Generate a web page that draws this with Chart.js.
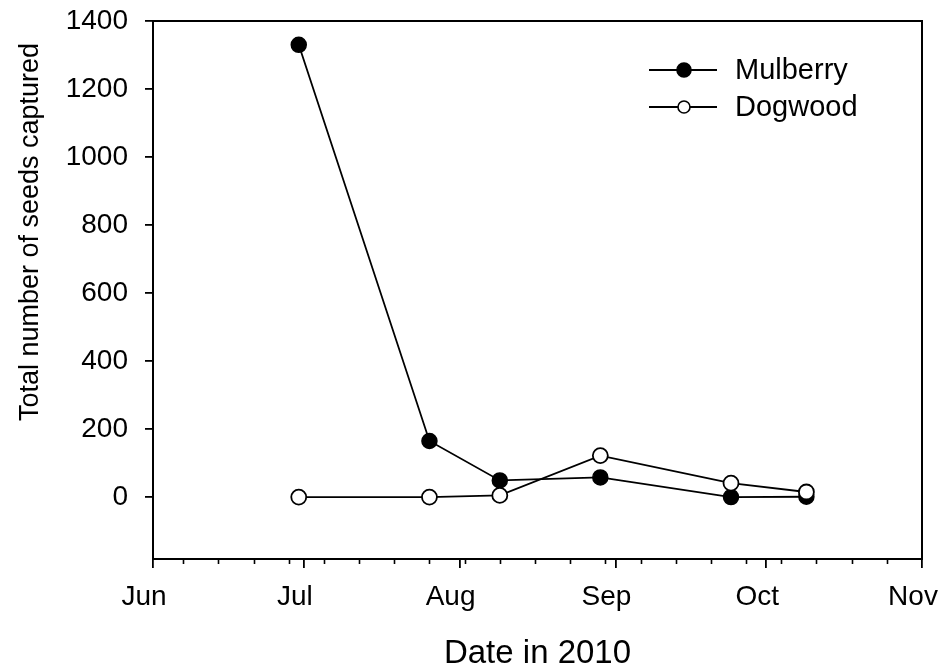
<!DOCTYPE html>
<html>
<head>
<meta charset="utf-8">
<script src="https://cdn.jsdelivr.net/npm/chart.js@4/dist/chart.umd.min.js"></script>
<style>
  html, body { margin: 0; padding: 0; background: #fff; }
  canvas { display: block; }
</style>
</head>
<body>
<canvas id="seeds" width="941" height="668"></canvas>
<script>
// Sampling dates and seed totals per species
const sampleDates = ['2010-06-30', '2010-07-26', '2010-08-09', '2010-08-29', '2010-09-24', '2010-10-09'];
const mulberrySeeds = [1330, 165, 49, 58, 0, 1];
const dogwoodSeeds = [0, 0, 5, 122, 41, 15];

// Axis ticks
const monthStarts = ['2010-06-01', '2010-07-01', '2010-08-01', '2010-09-01', '2010-10-01', '2010-11-01'];
const monthLabels = ['Jun', 'Jul', 'Aug', 'Sep', 'Oct', 'Nov'];
const countTicks = [0, 200, 400, 600, 800, 1000, 1200, 1400];
const firstMonday = '2010-06-07';

const FONT = "'Liberation Sans', Arial, sans-serif";
const DAY = 86400000;
const origin = Date.parse(monthStarts[0]);
const dayOf = s => (Date.parse(s) - origin) / DAY;

const monthDays = monthStarts.map(dayOf);
const xMin = monthDays[0];
const xMax = monthDays[monthDays.length - 1];

// weekly minor ticks (Mondays)
const weekDays = [];
for (let d = dayOf(firstMonday); d < xMax; d += 7) weekDays.push(d);

const toPoints = vals => sampleDates.map((s, i) => ({ x: dayOf(s), y: vals[i] }));

// keep the plot box fixed: tick labels may overhang the margins
const noOverhang = s => {
  s.paddingTop = 0; s.paddingBottom = 0; s.paddingLeft = 0; s.paddingRight = 0;
};

// Box frame around the plot area plus short minor ticks on the date axis
const framePlugin = {
  id: 'frame',
  afterDraw(chart) {
    const { ctx, chartArea: a, scales } = chart;
    ctx.save();
    ctx.strokeStyle = '#000';
    ctx.lineWidth = 2;
    ctx.lineCap = 'square';
    ctx.strokeRect(a.left, a.top, a.right - a.left, a.bottom - a.top);
    ctx.lineWidth = 1.6;
    ctx.lineCap = 'butt';
    ctx.beginPath();
    weekDays.forEach(d => {
      const x = Math.round(scales.x.getPixelForValue(d)) + 0.5;
      ctx.moveTo(x, a.bottom);
      ctx.lineTo(x, a.bottom + 5);
    });
    ctx.stroke();
    ctx.restore();
  }
};

// Axis titles
const titlePlugin = {
  id: 'axisTitles',
  afterDraw(chart) {
    const { ctx, chartArea: a } = chart;
    ctx.save();
    ctx.fillStyle = '#000';
    ctx.textAlign = 'center';
    ctx.textBaseline = 'alphabetic';
    ctx.font = '33px ' + FONT;
    ctx.fillText('Date in 2010', (a.left + a.right) / 2, 663);
    ctx.translate(38, 232);
    ctx.rotate(-Math.PI / 2);
    ctx.font = '27px ' + FONT;
    ctx.fillText('Total number of seeds captured', 0, 0);
    ctx.restore();
  }
};

// Legend: line through marker, label to the right
const legendPlugin = {
  id: 'lineLegend',
  afterDraw(chart) {
    const { ctx, chartArea: a } = chart;
    const entries = [
      { ds: chart.data.datasets.find(d => d.label === 'Mulberry'), y: a.top + 49, r: 7 },
      { ds: chart.data.datasets.find(d => d.label === 'Dogwood'), y: a.top + 86, r: 6 }
    ];
    const x0 = a.right - 273, x1 = a.right - 205, xm = a.right - 238, xt = a.right - 187;
    ctx.save();
    entries.forEach(e => {
      ctx.strokeStyle = '#000';
      ctx.lineWidth = 1.8;
      ctx.beginPath();
      ctx.moveTo(x0, e.y);
      ctx.lineTo(x1, e.y);
      ctx.stroke();
      ctx.beginPath();
      ctx.arc(xm, e.y, e.r, 0, Math.PI * 2);
      ctx.fillStyle = e.ds.pointBackgroundColor;
      ctx.fill();
      ctx.lineWidth = 1.6;
      ctx.stroke();
      ctx.fillStyle = '#000';
      ctx.font = '29px ' + FONT;
      ctx.textAlign = 'left';
      ctx.textBaseline = 'middle';
      ctx.fillText(e.ds.label, xt, e.y + 1);
    });
    ctx.restore();
  }
};

new Chart(document.getElementById('seeds'), {
  type: 'line',
  data: {
    datasets: [
      {
        label: 'Mulberry',
        data: toPoints(mulberrySeeds),
        order: 1,
        borderColor: '#000',
        borderWidth: 1.8,
        pointRadius: 7.5,
        pointBackgroundColor: '#000',
        pointBorderColor: '#000',
        pointBorderWidth: 1.5,
        tension: 0,
        fill: false
      },
      {
        label: 'Dogwood',
        data: toPoints(dogwoodSeeds),
        order: 0,
        borderColor: '#000',
        borderWidth: 1.8,
        pointRadius: 7.5,
        pointBackgroundColor: '#fff',
        pointBorderColor: '#000',
        pointBorderWidth: 1.8,
        tension: 0,
        fill: false
      }
    ]
  },
  options: {
    responsive: false,
    devicePixelRatio: 1,
    animation: false,
    layout: { padding: { top: 21, right: 19, left: 0, bottom: 0 } },
    plugins: {
      legend: { display: false },
      tooltip: { enabled: false }
    },
    scales: {
      x: {
        type: 'linear',
        min: xMin,
        max: xMax,
        afterBuildTicks: s => { s.ticks = monthDays.map(v => ({ value: v })); },
        afterFit: s => { s.height = 109; noOverhang(s); },
        ticks: {
          color: '#000',
          font: { family: FONT, size: 28 },
          padding: 12,
          labelOffset: -9,
          maxRotation: 0,
          autoSkip: false,
          callback: (v, i) => monthLabels[i]
        },
        grid: {
          display: true,
          drawOnChartArea: false,
          drawTicks: true,
          tickLength: 9,
          color: '#000',
          lineWidth: 1.8
        },
        border: { display: false }
      },
      y: {
        type: 'linear',
        min: -182,
        max: 1400,
        afterBuildTicks: s => { s.ticks = countTicks.map(v => ({ value: v })); },
        afterFit: s => { s.width = 153; noOverhang(s); },
        ticks: {
          color: '#000',
          font: { family: FONT, size: 28 },
          padding: 17,
          autoSkip: false,
          callback: v => String(v)
        },
        grid: {
          display: true,
          drawOnChartArea: false,
          drawTicks: true,
          tickLength: 8,
          color: '#000',
          lineWidth: 1.8
        },
        border: { display: false }
      }
    }
  },
  plugins: [framePlugin, titlePlugin, legendPlugin]
});
</script>
</body>
</html>
